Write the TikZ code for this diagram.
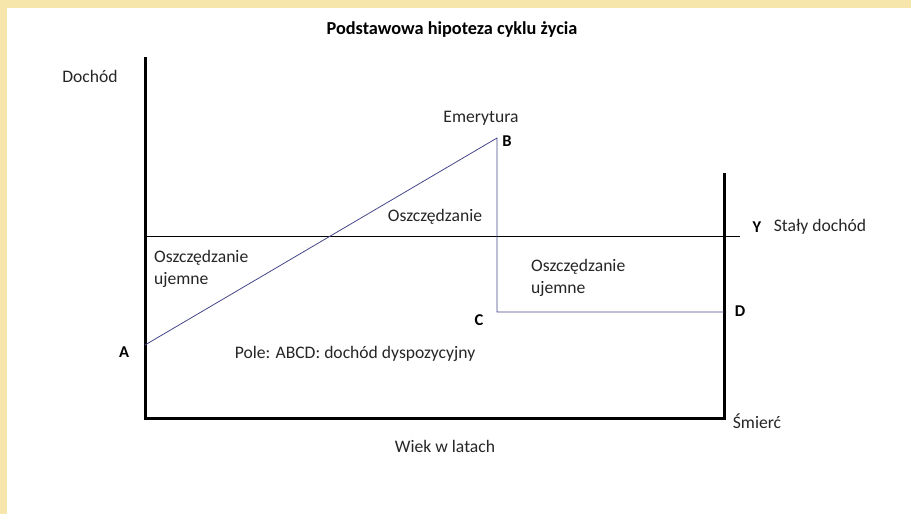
\documentclass[tikz,border=0pt]{standalone}
\usepackage{fontspec}
\setmainfont{Carlito}
\begin{document}
\begin{tikzpicture}[x=1pt,y=-1pt,
  lbl/.style={font=\fontsize{17.6}{21}\selectfont, text=black!85, inner sep=0pt},
  pt/.style={font=\fontsize{16.5}{19}\selectfont\bfseries, inner sep=0pt},
  axis/.style={line width=3pt, line cap=rect},
  curve/.style={draw={rgb,255:red,70;green,70;blue,140}, line width=0.8pt}]
\definecolor{bgyellow}{RGB}{247,230,172}
\fill[bgyellow] (0,0) rectangle (911,514);
\fill[white] (7,8) rectangle (911,514);
\useasboundingbox (0,0) rectangle (911,514);
% axes
\coordinate (top) at (145,58);
\coordinate (origin) at (145,418);
\coordinate (end) at (724,418);
\coordinate (endtop) at (724,174);
\draw[axis] (top) -- (origin) -- (end) -- (endtop);
% constant income line
\coordinate (yl) at (145,236);
\coordinate (yr) at (740,236);
\draw[line width=1pt] (yl) -- (yr);
% income path
\coordinate (A) at (145,345);
\coordinate (B) at (497,138);
\coordinate (C) at (497,312);
\coordinate (D) at (724,312);
\draw[curve] (A) -- (B) -- (C) -- (D);
% labels
\node[font=\fontsize{18.3}{21}\selectfont\bfseries, inner sep=0pt] (title) at (452,30) {Podstawowa hipoteza cyklu życia};
\node[lbl] (doch) at (90,76) {Dochód};
\node[lbl] (emer) at (481,118) {Emerytura};
\node[pt] (lB) at (507,141) {B};
\node[lbl] (osz) at (435,217) {Oszczędzanie};
\node[pt] (lY) at (757,227) {Y};
\node[lbl] (staly) at (820,227) {Stały dochód};
\node[lbl, align=left, anchor=north west, font=\fontsize{17.6}{22}\selectfont] (ozl) at (154,250) {Oszczędzanie\\ujemne};
\node[lbl, align=left, anchor=north west, font=\fontsize{17.6}{22}\selectfont] (ozr) at (531,259) {Oszczędzanie\\ujemne};
\node[pt] (lC) at (479,320) {C};
\node[pt] (lD) at (740,311) {D};
\node[pt] (lA) at (124,352) {A};
\node[lbl] (pole) at (355,354) {Pole: ABCD: dochód dyspozycyjny};
\node[lbl] (smierc) at (757,421) {Śmierć};
\node[lbl] (wiek) at (445,446) {Wiek w latach};
\end{tikzpicture}
\end{document}
